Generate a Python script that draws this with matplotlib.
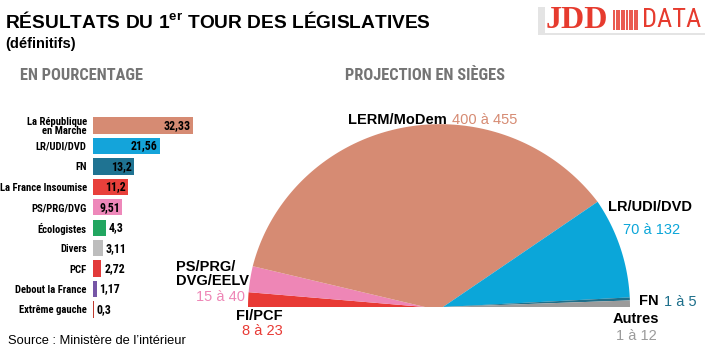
import numpy as np
import matplotlib
matplotlib.use("Agg")
import matplotlib.pyplot as plt
from matplotlib import font_manager
from matplotlib.patches import Polygon, Rectangle

# --- data -----------------------------------------------------------------
parties = ["La République\nen Marche", "LR/UDI/DVD", "FN", "La France Insoumise",
           "PS/PRG/DVG", "Écologistes", "Divers", "PCF", "Debout la France",
           "Extrême gauche"]
pct = [32.33, 21.56, 13.2, 11.2, 9.51, 4.3, 3.11, 2.72, 1.17, 0.3]
pct_labels = ["32,33", "21,56", "13,2", "11,2", "9,51", "4,3", "3,11", "2,72",
              "1,17", "0,3"]
bar_colors = ["#D68B73", "#14A4DA", "#1F7392", "#E8403B", "#EE88BA",
              "#22A660", "#BDBDBD", "#E23A3A", "#7656A6", "#C0392E"]

seat_groups = ["FI/PCF", "PS/PRG/\nDVG/EELV", "LERM/MoDem", "LR/UDI/DVD", "FN", "Autres"]
seat_low = [8, 15, 400, 70, 1, 1]
seat_high = [23, 40, 455, 132, 5, 12]
seat_colors = ["#E83A35", "#EE86B6", "#D68B73", "#0BA6D9", "#1D6F8B", "#9B9B9B"]


def pick_condensed():
    cond = {}
    for f in font_manager.fontManager.ttflist:
        if str(f.stretch) in ("condensed", "semi-condensed", "extra-condensed"):
            cond.setdefault(f.name, str(f.stretch))
    for p in ["Roboto Condensed", "Liberation Sans Narrow", "Noto Sans", "Open Sans",
              "DejaVu Sans", "Roboto", "Lato", "Inter"]:
        if p in cond:
            return p, cond[p]
    if cond:
        return next(iter(cond.items()))
    return None, None


SANS = "Liberation Sans"
SERIF = "Liberation Serif"
cname, cstretch = pick_condensed()
if cname:
    NARROW, STRETCH, NSCALE = cname, cstretch, 1.0
else:
    NARROW, STRETCH, NSCALE = SANS, "normal", 0.85
GREY = "#747474"
nkw = dict(family=NARROW, stretch=STRETCH, fontweight="bold")

fig = plt.figure(figsize=(7.1, 3.55), dpi=100)
fig.patch.set_facecolor("white")

# --- bars -------------------------------------------------------------------
px_per_unit = 3.09
top, step = 125.5, 20.44
ax = fig.add_axes([93 / 710, 1 - (top + step * 9.5) / 355, 115 / 710, step * 10 / 355])
ax.patch.set_alpha(0)
y = np.arange(len(pct))
ax.barh(y, pct, height=0.8, color=bar_colors)
ax.set_xlim(0, 115 / px_per_unit)
ax.set_ylim(len(pct) - 0.5, -0.5)
ax.set_yticks(y)
ax.set_yticklabels(parties, fontsize=7.7 * NSCALE, linespacing=0.95, **nkw)
ax.tick_params(axis="y", length=0, pad=4.5)
ax.set_xticks([])
for s in ax.spines.values():
    s.set_visible(False)
for yi, v, lab in zip(y, pct, pct_labels):
    if v > 5:
        ax.text(v - 0.6, yi, lab, ha="right", va="center", fontsize=8.6 * NSCALE, **nkw)
    else:
        ax.text(v + 0.9, yi, lab, ha="left", va="center", fontsize=8.6 * NSCALE, **nkw)

# overlay axes in pixel coords (y down)
ov = fig.add_axes([0, 0, 1, 1])
ov.patch.set_alpha(0)
ov.set_xlim(0, 710)
ov.set_ylim(355, 0)
ov.axis("off")

# --- titles -----------------------------------------------------------------
ov.text(5, 22, "RÉSULTATS DU 1$^{\\mathregular{er}}$ TOUR DES LÉGISLATIVES", family=SANS,
        fontweight="bold", fontsize=13.8, va="center", ha="left")
ov.text(5, 44, "(définitifs)", family=SANS, fontweight="bold", fontsize=10.5,
        va="center", ha="left")
ov.text(20, 75, "EN POURCENTAGE", fontsize=11.8 * NSCALE, color=GREY,
        va="center", ha="left", **nkw)
ov.text(345, 75, "PROJECTION EN SIÈGES", fontsize=11.8 * NSCALE, color=GREY,
        va="center", ha="left", **nkw)
ov.text(8, 341, "Source : Ministère de l\u2019intérieur", family=SANS, fontsize=9.3,
        va="center", ha="left")

# logo
ov.add_patch(Rectangle((538, 7), 167, 28, facecolor="#E4E4E4", edgecolor="none"))
ov.add_patch(Rectangle((545, 5), 160, 28, facecolor="white", edgecolor="none"))
ov.text(546, 20, "JDD", family=SERIF, fontweight="bold", fontsize=23, color="#E63B2E",
        va="center", ha="left")
ov.vlines(np.arange(614, 640, 2.6), 10, 30, color="#E63B2E", lw=1.2)
ov.text(642, 20, "DATA", family=NARROW, stretch=STRETCH, fontsize=19 * NSCALE,
        color="#E63B2E", va="center", ha="left")

# --- half pie ---------------------------------------------------------------
mid = [(lo + hi) / 2 for lo, hi in zip(seat_low, seat_high)]
spans = np.array(mid) / sum(mid) * 180
edges = 180 - np.concatenate([[0], np.cumsum(spans)])
cy = 307
a_left, a_right = edges[2], edges[3]


def geom(t):
    # left wedges hinge at 425, right ones at 443, LERM bridges the two
    f = np.clip((a_left - t) / (a_left - a_right), 0, 1)
    return 425 + 18 * f, 177 + 10 * f


for i, col in enumerate(seat_colors):
    t0, t1 = edges[i], edges[i + 1]
    ts = np.linspace(t0, t1, 120)
    pts = [(geom(t0)[0], cy)]
    for t in ts:
        cx, r = geom(t)
        pts.append((cx + r * np.cos(np.radians(t)), cy - r * np.sin(np.radians(t))))
    pts.append((geom(t1)[0], cy))
    ov.add_patch(Polygon(pts, closed=True, facecolor=col, edgecolor="none"))

# pie labels
lab_kw = dict(family=SANS, fontweight="bold", fontsize=10.5, va="center")
val_kw = dict(family=SANS, fontsize=10.5, va="center")
ov.text(447, 120, seat_groups[2], ha="right", **lab_kw)
ov.text(452, 120, f"{seat_low[2]} à {seat_high[2]}", ha="left", color=seat_colors[2], **val_kw)
ov.text(608, 207, seat_groups[3], ha="left", **lab_kw)
ov.text(652, 230, f"{seat_low[3]} à {seat_high[3]}", ha="center", color=seat_colors[3], **val_kw)
ov.text(249, 274, seat_groups[1], ha="right", multialignment="left", linespacing=1.05, **lab_kw)
ov.text(245, 297, f"{seat_low[1]} à {seat_high[1]}", ha="right", color=seat_colors[1], **val_kw)
ov.text(283, 316, seat_groups[0], ha="right", **lab_kw)
ov.text(283, 331, f"{seat_low[0]} à {seat_high[0]}", ha="right", color=seat_colors[0], **val_kw)
ov.text(639, 301, seat_groups[4], ha="left", **lab_kw)
ov.text(664, 302, f"{seat_low[4]} à {seat_high[4]}", ha="left", color=seat_colors[4], **val_kw)
ov.text(636, 319, seat_groups[5], ha="center", **lab_kw)
ov.text(636, 336, f"{seat_low[5]} à {seat_high[5]}", ha="center", color=seat_colors[5], **val_kw)

fig.savefig("out.png", dpi=100, facecolor="white")
